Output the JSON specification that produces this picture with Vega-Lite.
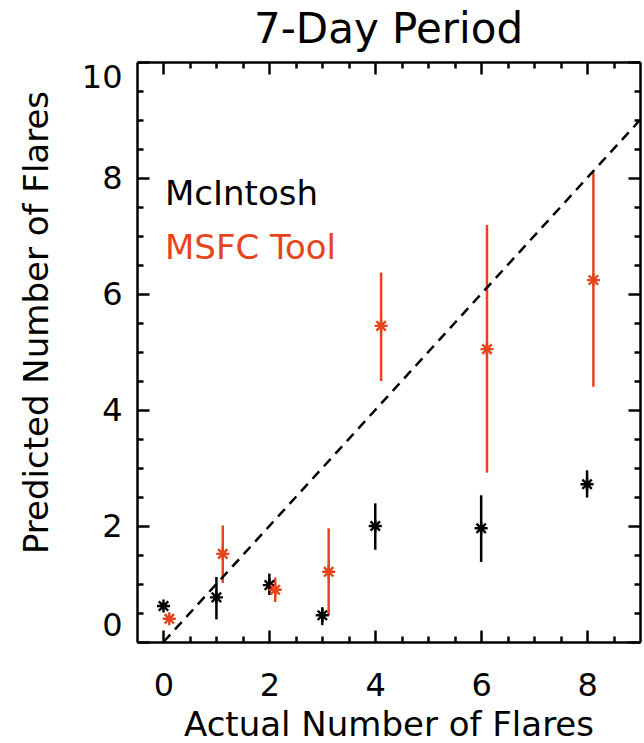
{
  "$schema": "https://vega.github.io/schema/vega-lite/v6.json",
  "width": 503,
  "height": 580,
  "autosize": {"type": "none"},
  "padding": {"left": 137, "top": 62, "right": 4, "bottom": 101},
  "background": "white",
  "title": {"text": "7-Day Period", "fontSize": 42, "font": "DejaVu Sans", "fontWeight": "normal", "baseline": "alphabetic", "offset": -24, "anchor": "middle", "frame": "group", "color": "black"},
  "config": {
    "view": {"stroke": null},
    "font": "DejaVu Sans",
    "axis": {"grid": false, "domainColor": "black", "tickColor": "black", "labelColor": "black", "titleColor": "black", "labelFont": "DejaVu Sans", "titleFont": "DejaVu Sans", "titleFontWeight": "normal", "domainWidth": 2.5, "tickWidth": 2.5, "labelFontSize": 32, "titleFontSize": 34}
  },
  "datasets": {
    "pts": [
      {"series": "McIntosh", "actual": 0, "predicted": 0.62, "lo": 0.62, "hi": 0.62},
      {"series": "McIntosh", "actual": 1, "predicted": 0.77, "lo": 0.39, "hi": 1.12},
      {"series": "McIntosh", "actual": 2, "predicted": 0.98, "lo": 0.81, "hi": 1.18},
      {"series": "McIntosh", "actual": 3, "predicted": 0.46, "lo": 0.29, "hi": 0.60},
      {"series": "McIntosh", "actual": 4, "predicted": 2.0, "lo": 1.59, "hi": 2.39},
      {"series": "McIntosh", "actual": 6, "predicted": 1.96, "lo": 1.38, "hi": 2.53},
      {"series": "McIntosh", "actual": 8, "predicted": 2.72, "lo": 2.49, "hi": 2.96},
      {"series": "MSFC Tool", "actual": 0.11, "predicted": 0.40, "lo": 0.40, "hi": 0.40},
      {"series": "MSFC Tool", "actual": 1.12, "predicted": 1.52, "lo": 1.02, "hi": 2.01},
      {"series": "MSFC Tool", "actual": 2.11, "predicted": 0.90, "lo": 0.69, "hi": 1.11},
      {"series": "MSFC Tool", "actual": 3.12, "predicted": 1.21, "lo": 0.46, "hi": 1.96},
      {"series": "MSFC Tool", "actual": 4.11, "predicted": 5.45, "lo": 4.50, "hi": 6.37},
      {"series": "MSFC Tool", "actual": 6.11, "predicted": 5.05, "lo": 2.92, "hi": 7.19},
      {"series": "MSFC Tool", "actual": 8.12, "predicted": 6.24, "lo": 4.40, "hi": 8.09}
    ],
    "diag": [
      {"actual": 0, "predicted": 0},
      {"actual": 9, "predicted": 9}
    ]
  },
  "layer": [
    {
      "data": {"name": "pts"},
      "mark": {"type": "rule", "strokeWidth": 2.5},
      "encoding": {
        "x": {"field": "actual", "type": "quantitative", "scale": {"domain": [-0.5, 9], "nice": false, "zero": false},
          "axis": {"orient": "bottom", "values": [0, 2, 4, 6, 8], "tickSize": -12, "labelPadding": 40, "labelFlush": false, "title": "Actual Number of Flares", "titleY": 93, "titleBaseline": "alphabetic", "domain": true}},
        "y": {"field": "lo", "type": "quantitative", "scale": {"domain": [0, 10], "nice": false, "zero": false},
          "axis": {"orient": "left", "values": [0, 2, 4, 6, 8, 10], "tickSize": -12, "labelPadding": 27, "labelFlush": true, "title": "Predicted Number of Flares", "titleX": -100, "titleY": 260, "titleAngle": 270, "titleAlign": "center", "titleBaseline": "middle", "domain": true}},
        "y2": {"field": "hi"},
        "color": {"field": "series", "type": "nominal", "scale": {"domain": ["McIntosh", "MSFC Tool"], "range": ["#000000", "#e8441c"]},
          "legend": {"orient": "none", "legendX": -6, "legendY": 116, "title": null, "labelFontSize": 34, "labelFont": "DejaVu Sans", "symbolSize": 0, "symbolOpacity": 0, "symbolStrokeWidth": 0, "labelOffset": 0, "rowPadding": 20, "labelLimit": 400,
            "encode": {"labels": {"update": {"fill": {"scale": "color", "field": "value"}}}}}}
      }
    },
    {
      "data": {"name": "pts"},
      "mark": {"type": "point", "shape": "M-1,0L1,0M0,-1L0,1M-0.72,-0.72L0.72,0.72M-0.72,0.72L0.72,-0.72", "filled": false, "size": 170, "strokeWidth": 2.4, "opacity": 1},
      "encoding": {
        "x": {"field": "actual", "type": "quantitative", "scale": {"domain": [-0.5, 9], "nice": false, "zero": false},
          "axis": {"orient": "bottom", "values": [0.5, 1, 1.5, 2.5, 3, 3.5, 4.5, 5, 5.5, 6.5, 7, 7.5, 8.5], "tickSize": -6, "labels": false, "domain": false, "title": null}},
        "y": {"field": "predicted", "type": "quantitative", "scale": {"domain": [0, 10], "nice": false, "zero": false},
          "axis": {"orient": "left", "values": [0.5, 1, 1.5, 2.5, 3, 3.5, 4.5, 5, 5.5, 6.5, 7, 7.5, 8.5, 9, 9.5], "tickSize": -6, "labels": false, "domain": false, "title": null}},
        "color": {"field": "series", "type": "nominal", "scale": {"domain": ["McIntosh", "MSFC Tool"], "range": ["#000000", "#e8441c"]}}
      }
    },
    {
      "data": {"name": "diag"},
      "mark": {"type": "line", "strokeDash": [10, 7], "strokeWidth": 2.5, "color": "black"},
      "encoding": {
        "x": {"field": "actual", "type": "quantitative", "scale": {"domain": [-0.5, 9], "nice": false, "zero": false},
          "axis": {"orient": "top", "values": [0, 2, 4, 6, 8], "tickSize": -12, "labels": false, "domain": true, "title": null}},
        "y": {"field": "predicted", "type": "quantitative", "scale": {"domain": [0, 10], "nice": false, "zero": false},
          "axis": {"orient": "right", "values": [0, 2, 4, 6, 8, 10], "tickSize": -12, "labels": false, "domain": true, "title": null}}
      }
    },
    {
      "data": {"name": "diag"},
      "mark": {"type": "point", "opacity": 0},
      "encoding": {
        "x": {"field": "actual", "type": "quantitative", "scale": {"domain": [-0.5, 9], "nice": false, "zero": false},
          "axis": {"orient": "top", "values": [0.5, 1, 1.5, 2.5, 3, 3.5, 4.5, 5, 5.5, 6.5, 7, 7.5, 8.5], "tickSize": -6, "labels": false, "domain": false, "title": null}},
        "y": {"field": "predicted", "type": "quantitative", "scale": {"domain": [0, 10], "nice": false, "zero": false},
          "axis": {"orient": "right", "values": [0.5, 1, 1.5, 2.5, 3, 3.5, 4.5, 5, 5.5, 6.5, 7, 7.5, 8.5, 9, 9.5], "tickSize": -6, "labels": false, "domain": false, "title": null}}
      }
    }
  ],
  "resolve": {"axis": {"x": "independent", "y": "independent"}}
}
